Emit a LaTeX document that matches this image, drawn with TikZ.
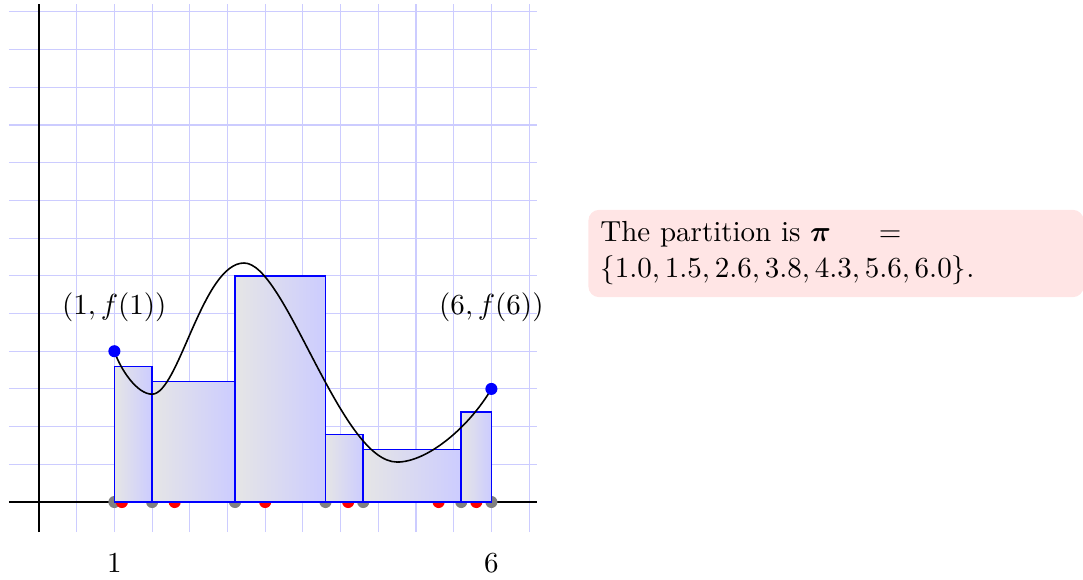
\documentclass[tikz,border=0pt]{standalone}
\usepackage{amsmath}
\usetikzlibrary{shadings}
\tikzset{
  every node/.style={font=\fontsize{10.95}{13.6}\selectfont},
  gridline/.style={blue!20, line width=0.4pt},
  axisline/.style={black, line width=0.6pt},
  barbox/.style={draw=blue, line width=0.6pt, left color=gray!20, right color=blue!20},
  curveline/.style={black, line width=0.6pt},
  partdot/.style={fill=gray},
  tagdot/.style={fill=red},
  enddot/.style={fill=blue},
  notebox/.style={fill=red!10, rounded corners=4pt, inner xsep=4.5pt, inner ysep=4.5pt,
    text width=6.25cm, align=left, minimum height=1.154cm, anchor=west}
}
\begin{document}
\begin{tikzpicture}
\useasboundingbox (-0.517,-1.021) rectangle (13.846,6.658);
% grid and axes
\foreach \i in {0,...,13} {
  \draw[gridline] (\i*0.5,-0.4) -- (\i*0.5,6.6);
  \draw[gridline] (-0.4,\i*0.5) -- (6.6,\i*0.5);
}
\draw[axisline] (-0.4,0) -- (6.6,0);
\draw[axisline] (0,-0.4) -- (0,6.6);
% partition points
\foreach \p in {1.0,1.5,2.6,3.8,4.3,5.6,6.0}
  \fill[partdot] (\p,0) circle (0.08);
% tags
\foreach \t in {1.1,1.8,3.0,4.1,5.3,5.8}
  \fill[tagdot] (\t,0) circle (0.08);
% rectangles
\draw[barbox] (1.0,0) rectangle (1.5,1.795);
\draw[barbox] (1.5,0) rectangle (2.6,1.596);
\draw[barbox] (2.6,0) rectangle (3.8,3.0);
\draw[barbox] (3.8,0) rectangle (4.3,0.893);
\draw[barbox] (4.3,0) rectangle (5.6,0.694);
\draw[barbox] (5.6,0) rectangle (6.0,1.19);
% curve
\coordinate (A) at (1,2);
\coordinate (M1) at (1.5,1.43);
\coordinate (M2) at (2.72,3.17);
\coordinate (M3) at (4.75,0.53);
\coordinate (B) at (6,1.5);
\draw[curveline] (A) .. controls (1.08,1.76) and (1.3,1.43) .. (M1)
  .. controls (1.85,1.43) and (2.17,3.17) .. (M2)
  .. controls (3.27,3.17) and (4.0,0.53) .. (M3)
  .. controls (5.15,0.53) and (5.7,0.99) .. (B);
\fill[enddot] (A) circle (0.08);
\fill[enddot] (B) circle (0.08);
% labels
\node (la) at (1,2.58) {$(1,f(1))$};
\node (lb) at (6,2.58) {$(6,f(6))$};
\node (t1) at (1,-0.81) {$1$};
\node (t6) at (6,-0.81) {$6$};
% note
\node[notebox] (note) at (7.28,3.296)
  {The partition is $\boldsymbol{\pi}\hspace{15pt}=$\\
   $\{1.0, 1.5, 2.6, 3.8, 4.3, 5.6, 6.0\}$.};
\end{tikzpicture}
\end{document}
